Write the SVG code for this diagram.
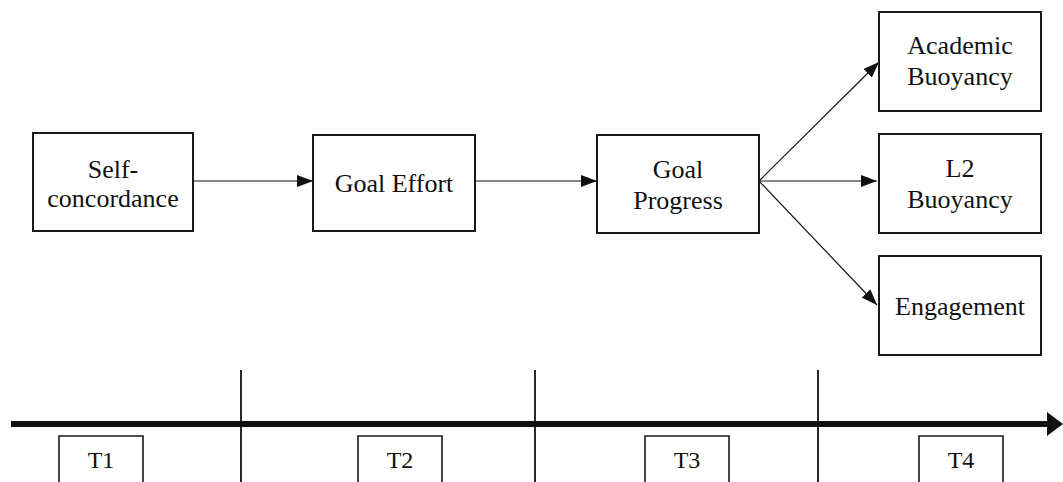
<svg xmlns="http://www.w3.org/2000/svg" width="1063" height="482" viewBox="0 0 1063 482">
<style>
.box{fill:#fff;stroke:#1a1a1a;stroke-width:2}
.tbox{fill:none;stroke:#1a1a1a;stroke-width:1.6}
.lbl{font-family:"Liberation Serif","Times New Roman",serif;font-size:26px;fill:#111;text-anchor:middle}
.tl{font-family:"Liberation Serif","Times New Roman",serif;font-size:24px;fill:#111;text-anchor:middle}
.con{stroke:#111;stroke-width:1.2;fill:none;marker-end:url(#ah)}
</style>
<defs>
<marker id="ah" markerWidth="16" markerHeight="12" refX="16" refY="6" orient="auto" markerUnits="userSpaceOnUse">
<path d="M0,0 L16,6 L0,12 Z" fill="#111"/>
</marker>
</defs>
<rect width="1063" height="482" fill="#fff"/>
<g id="connectors">
<line class="con" x1="193" y1="181" x2="313" y2="181"/>
<line class="con" x1="475" y1="181" x2="597" y2="181"/>
<line class="con" x1="759" y1="181" x2="879" y2="62"/>
<line class="con" x1="759" y1="181" x2="877" y2="181"/>
<line class="con" x1="759" y1="181" x2="877" y2="305"/>
</g>
<g id="self-concordance">
<rect class="box" x="33" y="133" width="160" height="98"/>
<text class="lbl" x="113" y="178">Self-</text>
<text class="lbl" x="113" y="207">concordance</text>
</g>
<g id="goal-effort">
<rect class="box" x="313" y="135" width="162" height="96"/>
<text class="lbl" x="394" y="192">Goal Effort</text>
</g>
<g id="goal-progress">
<rect class="box" x="597" y="135" width="162" height="98"/>
<text class="lbl" x="678" y="178">Goal</text>
<text class="lbl" x="678" y="209">Progress</text>
</g>
<g id="academic-buoyancy">
<rect class="box" x="879" y="12" width="162" height="99"/>
<text class="lbl" x="960" y="54">Academic</text>
<text class="lbl" x="960" y="85">Buoyancy</text>
</g>
<g id="l2-buoyancy">
<rect class="box" x="879" y="134" width="162" height="99"/>
<text class="lbl" x="960" y="177">L2</text>
<text class="lbl" x="960" y="208">Buoyancy</text>
</g>
<g id="engagement">
<rect class="box" x="879" y="256" width="162" height="99"/>
<text class="lbl" x="960" y="315">Engagement</text>
</g>
<g id="timeline">
<line x1="11" y1="424" x2="1050" y2="424" stroke="#111" stroke-width="6"/>
<path d="M1047,412 L1063,424 L1047,436 Z" fill="#111"/>
<line x1="241" y1="370" x2="241" y2="482" stroke="#111" stroke-width="1.8"/>
<line x1="535" y1="370" x2="535" y2="482" stroke="#111" stroke-width="1.8"/>
<line x1="818" y1="370" x2="818" y2="482" stroke="#111" stroke-width="1.8"/>
</g>
<g id="t1">
<path class="tbox" d="M59,482 V436 H143 V482"/>
<text class="tl" x="101" y="468">T1</text>
</g>
<g id="t2">
<path class="tbox" d="M358,482 V436 H442 V482"/>
<text class="tl" x="400" y="468">T2</text>
</g>
<g id="t3">
<path class="tbox" d="M645,482 V436 H729 V482"/>
<text class="tl" x="687" y="468">T3</text>
</g>
<g id="t4">
<path class="tbox" d="M919,482 V436 H1003 V482"/>
<text class="tl" x="961" y="468">T4</text>
</g>
</svg>
